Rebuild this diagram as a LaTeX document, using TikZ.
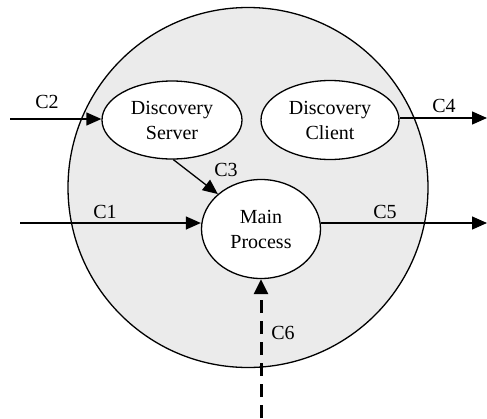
\documentclass[tikz,border=0pt]{standalone}
\usepackage{fontspec}
\setmainfont{Liberation Serif}
\usetikzlibrary{shapes.geometric,arrows.meta}
\begin{document}
\begin{tikzpicture}[x=1pt,y=-1pt,
  proc/.style={ellipse,draw,line width=1.3pt,fill=white,inner sep=0pt,
    align=center,font=\fontsize{20}{25}\selectfont},
  flow/.style={line width=1.3pt,-{Triangle[length=15pt,width=13pt]}},
  lbl/.style={font=\fontsize{20}{25}\selectfont,inner sep=0pt}]
  \useasboundingbox (0,0) rectangle (487,418);
  % component boundary
  \node[circle,draw,line width=1.3pt,fill=black!8,minimum size=360pt,inner sep=0pt] (sys) at (248,187.5) {};
  % processes
  \node[proc,minimum width=140pt,minimum height=78pt] (ds) at (172,120) {Discovery\\Server};
  \node[proc,minimum width=138pt,minimum height=79pt] (dc) at (330,120) {Discovery\\Client};
  \node[proc,minimum width=119pt,minimum height=99pt] (mp) at (261,229) {Main\\Process};
  % external end points
  \coordinate (c2s) at (10,119);
  \coordinate (c4e) at (487,118);
  \coordinate (c1s) at (20,223);
  \coordinate (c5e) at (487,223);
  \coordinate (c6s) at (261,418);
  % connectors
  \draw[flow] (c2s) -- (ds.west |- c2s);
  \draw[flow] (dc.east |- c4e) -- (c4e);
  \draw[flow] (c1s) -- (mp.west |- c1s);
  \draw[flow] (mp.east |- c5e) -- (c5e);
  \draw[flow] (ds.-88) -- (mp.141);
  \draw[line width=3pt,dash pattern=on 13pt off 8pt,-{Triangle[length=15pt,width=14pt]}] (c6s) -- (mp.south);
  % labels
  \node[lbl] (l2) at (47,102) {C2};
  \node[lbl] (l4) at (444,106) {C4};
  \node[lbl] (l1) at (105,212) {C1};
  \node[lbl] (l5) at (385,212) {C5};
  \node[lbl] (l3) at (226,170) {C3};
  \node[lbl] (l6) at (283,333) {C6};
\end{tikzpicture}
\end{document}
